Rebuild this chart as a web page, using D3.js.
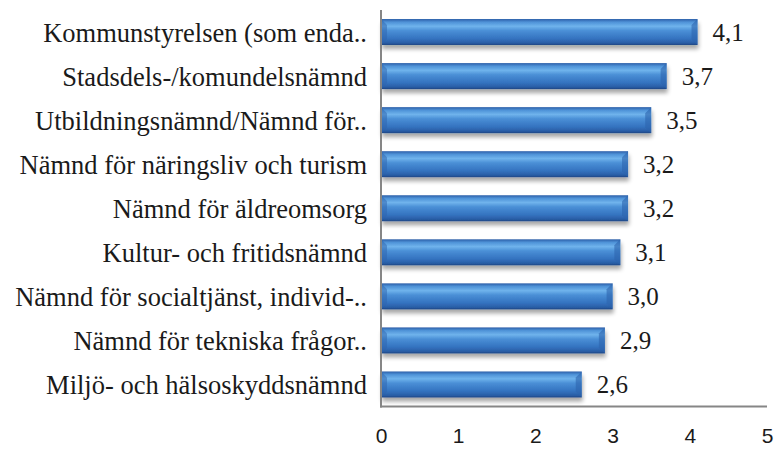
<!DOCTYPE html>
<html lang="sv">
  <head>
    <meta charset="utf-8" />
    <title>Nämnder</title>
    <script src="https://cdn.jsdelivr.net/npm/d3@7"></script>
    <style>
      body { margin: 0; background: #fff; }
    </style>
  </head>
  <body>
    <script>
      let categories = [
        "Kommunstyrelsen (som enda..",
        "Stadsdels-/komundelsnämnd",
        "Utbildningsnämnd/Nämnd för..",
        "Nämnd för näringsliv och turism",
        "Nämnd för äldreomsorg",
        "Kultur- och fritidsnämnd",
        "Nämnd för socialtjänst, individ-..",
        "Nämnd för tekniska frågor..",
        "Miljö- och hälsoskyddsnämnd"
      ];
      let values = [4.1, 3.7, 3.5, 3.2, 3.2, 3.1, 3.0, 2.9, 2.6];
      let ticks = [0, 1, 2, 3, 4, 5];

      let w = 775;
      let h = 449;
      let mLeft = 381, mRight = 767, mTop = 10, mBottom = 406.5;
      let serif = "Liberation Serif";

      let svg = d3.select("body").append("svg").attr("width", w).attr("height", h);

      let defs = svg.append("defs");
      let grad = defs.append("linearGradient").attr("id", "barg")
        .attr("x1", 0).attr("y1", 0).attr("x2", 0).attr("y2", 1);
      [[0, "#2b5ea8"], [0.12, "#4f93d8"], [0.28, "#6fb3ec"], [0.45, "#4a8fd6"],
       [0.75, "#3473c0"], [0.92, "#2a5ea6"], [1, "#1e4684"]].forEach(s =>
        grad.append("stop").attr("offset", s[0]).attr("stop-color", s[1]));

      let sh = defs.append("filter").attr("id", "shadow")
        .attr("x", "-5%").attr("y", "-20%").attr("width", "115%").attr("height", "160%");
      sh.append("feGaussianBlur").attr("in", "SourceAlpha").attr("stdDeviation", 2);
      sh.append("feOffset").attr("dx", 1).attr("dy", 4).attr("result", "b");
      sh.append("feComponentTransfer").append("feFuncA").attr("type", "linear").attr("slope", 0.35);
      let merge = sh.append("feMerge");
      merge.append("feMergeNode");
      merge.append("feMergeNode").attr("in", "SourceGraphic");

      let x = d3.scaleLinear().domain([0, 5]).range([mLeft, mRight]);
      let y = d3.scaleBand().domain(categories).range([mTop, mBottom]).paddingInner(0.41).paddingOuter(0.205);

      let g = svg.append("g");
      g.selectAll("rect.bar")
        .data(values)
        .join("rect")
        .attr("class", "bar")
        .attr("x", x(0))
        .attr("y", (d, i) => y(categories[i]))
        .attr("width", d => x(d) - x(0))
        .attr("height", y.bandwidth())
        .attr("fill", "url(#barg)")
        .attr("filter", "url(#shadow)");

      // bevel at bar ends
      g.selectAll("path.bevel")
        .data(values)
        .join("path")
        .attr("class", "bevel")
        .attr("d", (d, i) => {
          let y0 = y(categories[i]), bh = y.bandwidth(), xe = x(d), b = 6;
          return `M${xe - b},${y0 + b}L${xe},${y0}L${xe},${y0 + bh}L${xe - b},${y0 + bh - b}Z`;
        })
        .attr("fill", "#2d64ae")
        .attr("opacity", 0.6);
      g.selectAll("path.bevl")
        .data(values)
        .join("path")
        .attr("class", "bevl")
        .attr("d", (d, i) => {
          let y0 = y(categories[i]), bh = y.bandwidth(), xs = x(0), b = 6;
          return `M${xs},${y0}L${xs + b},${y0 + b}L${xs + b},${y0 + bh - b}L${xs},${y0 + bh}Z`;
        })
        .attr("fill", "#2d64ae")
        .attr("opacity", 0.5);

      g.selectAll("text.val")
        .data(values)
        .join("text")
        .attr("class", "val")
        .attr("x", d => x(d) + 15)
        .attr("y", (d, i) => y(categories[i]) + y.bandwidth() / 2 + 9)
        .attr("font-family", serif)
        .attr("font-size", 25)
        .attr("fill", "#1a1a1a")
        .text(d => d3.format(".1f")(d).replace(".", ","));

      g.selectAll("text.cat")
        .data(categories)
        .join("text")
        .attr("class", "cat")
        .attr("x", 367)
        .attr("y", d => y(d) + y.bandwidth() / 2 + 9.5)
        .attr("text-anchor", "end")
        .attr("font-family", serif)
        .attr("font-size", 26.5)
        .attr("fill", "#1a1a1a")
        .text(d => d);

      // axis lines
      svg.append("line").attr("x1", mLeft).attr("x2", mLeft).attr("y1", mTop).attr("y2", mBottom + 1)
        .attr("stroke", "#868686").attr("stroke-width", 2);
      svg.append("line").attr("x1", mLeft - 1).attr("x2", mRight).attr("y1", mBottom).attr("y2", mBottom)
        .attr("stroke", "#868686").attr("stroke-width", 2);

      let xa = svg.append("g")
        .attr("class", "x axis")
        .attr("transform", `translate(0,${mBottom})`)
        .call(d3.axisBottom(x).tickValues(ticks).tickSize(0).tickFormat(d3.format("d")));
      xa.select(".domain").remove();
      xa.selectAll("text")
        .attr("y", 443 - mBottom)
        .attr("dy", 0)
        .attr("font-family", "Liberation Sans")
        .attr("font-size", 21)
        .attr("fill", "#1a1a1a");
    </script>
  </body>
</html>
